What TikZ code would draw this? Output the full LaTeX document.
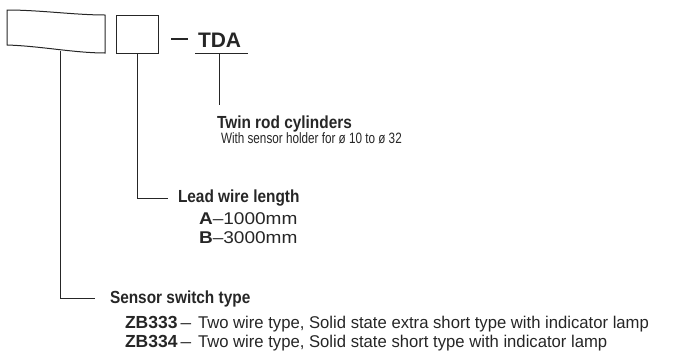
\documentclass[tikz,border=0pt]{standalone}
\usepackage{fontspec}
\setmainfont{Liberation Sans}
\newfontfamily\condreg[FakeStretch=0.98]{Liberation Sans}
\newfontfamily\smallreg[FakeStretch=0.78]{Liberation Sans}
\newfontfamily\condbold[FakeStretch=0.88,UprightFont={* Bold}]{Liberation Sans}
\newfontfamily\widereg[FakeStretch=1.12]{Liberation Sans}
\newfontfamily\widebold[FakeStretch=1.12,UprightFont={* Bold}]{Liberation Sans}
\definecolor{ink}{HTML}{262626}
\tikzset{
  lbl/.style={anchor=base west, inner sep=0pt, outer sep=0pt, text=ink},
  head/.style={lbl, font=\condbold\fontsize{17.5}{20}\selectfont},
  desc/.style={lbl, font=\condreg\fontsize{17}{20}\selectfont},
  small/.style={lbl, font=\smallreg\fontsize{15}{17}\selectfont},
  code/.style={lbl, font=\widereg\fontsize{17}{20}\selectfont},
  bcode/.style={lbl, font=\bfseries\fontsize{17.5}{20}\selectfont},
  wire/.style={draw=ink, line width=0.9pt},
  frame/.style={draw=ink, line width=1pt}
}
\begin{document}
\begin{tikzpicture}[x=1pt,y=-1pt]
\useasboundingbox (0,0) rectangle (677,360);
% boxes
\draw[frame] (7,10) .. controls (40,10) and (75,15) .. (105,15) -- (105,53)
   .. controls (75,53) and (40,46) .. (7,45) -- cycle;
\coordinate (b1) at (60,51);
\node[frame, minimum width=42pt, minimum height=38pt, inner sep=0pt] (box2) at (137,34) {};
% TDA
\coordinate (dashL) at (171,39);
\coordinate (dashR) at (188,39);
\draw[wire, line width=1.2pt] (dashL) -- (dashR);
\node[bcode, font=\bfseries\fontsize{21}{23}\selectfont] (tda) at (198,47) {TDA};
\coordinate (ulL) at (195,53);
\coordinate (ulR) at (248,53);
\draw[wire] (ulL) -- (ulR);
\coordinate (ulM) at (219,53);
\coordinate (ulEnd) at (219,105);
\draw[wire] (ulM) -- (ulEnd);
% Twin rod
\node[head] (twin) at (217,128) {Twin rod cylinders};
\node[small] (with) at (221,143) {With sensor holder for ø 10 to ø 32};
% Lead wire
\node[head] (lead) at (178,202) {Lead wire length};
\coordinate (leadEnd) at (168,198);
\draw[wire] (box2.south) |- (leadEnd);
\node[code] (a) at (199,224) {{\widebold A}–1000mm};
\node[code] (b) at (199,243) {{\widebold B}–3000mm};
% Sensor switch
\node[head] (sensor) at (110,303) {Sensor switch type};
\coordinate (sensEnd) at (95,298);
\draw[wire] (b1) |- (sensEnd);
\node[bcode] (zb3) at (125,328) {ZB333};
\node[code] (zb3d) at (zb3.base east) [anchor=base west, xshift=3pt] {–};
\node[desc] (zb3t) at (198,328) {Two wire type, Solid state extra short type with indicator lamp};
\node[bcode] (zb4) at (125,347) {ZB334};
\node[code] (zb4d) at (zb4.base east) [anchor=base west, xshift=3pt] {–};
\node[desc] (zb4t) at (198,347) {Two wire type, Solid state short type with indicator lamp};
\end{tikzpicture}
\end{document}
